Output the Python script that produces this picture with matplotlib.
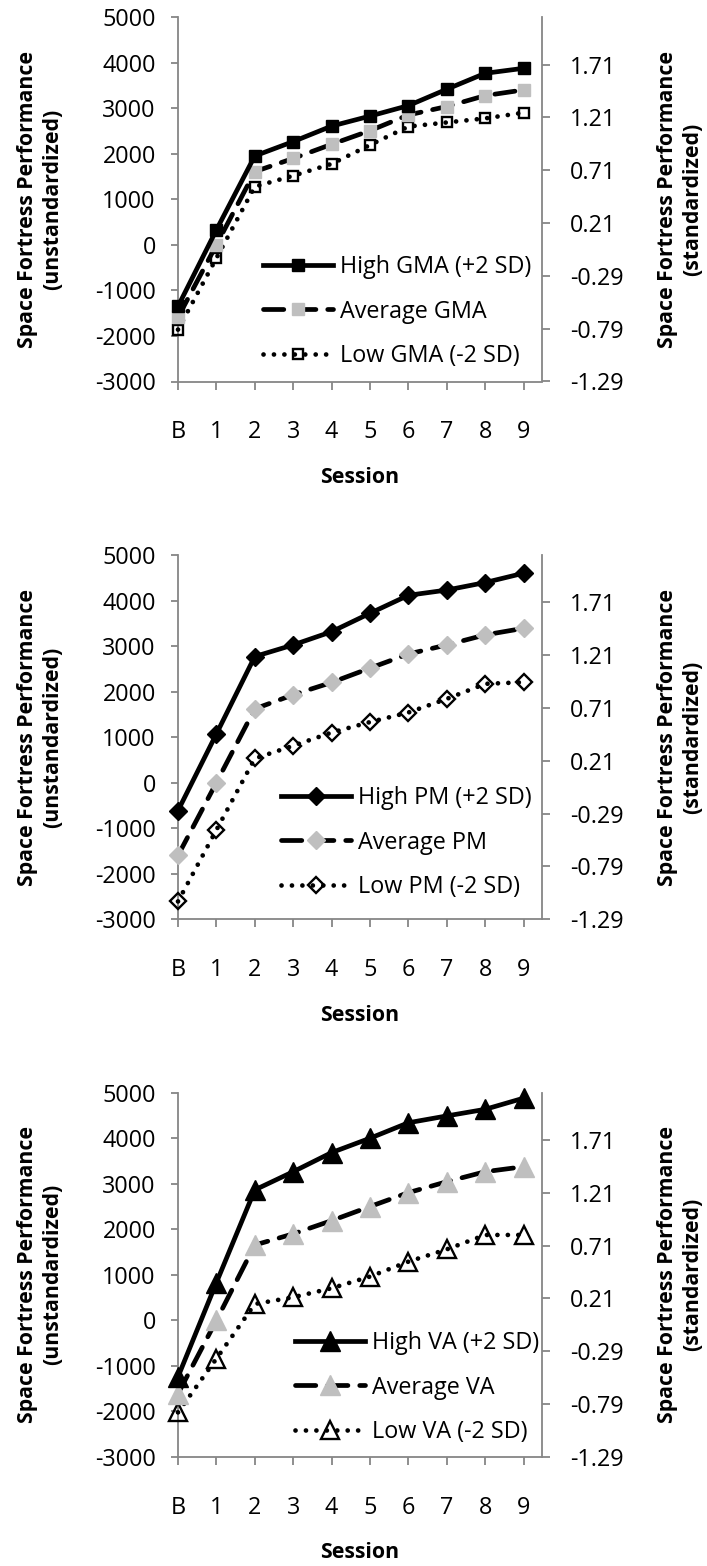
import matplotlib
matplotlib.use("Agg")
import matplotlib.pyplot as plt

sessions = ['B', '1', '2', '3', '4', '5', '6', '7', '8', '9']

gma_high = [-1350, 330, 1955, 2270, 2610, 2830, 3060, 3420, 3770, 3880]
gma_avg = [-1590, 0, 1610, 1900, 2210, 2510, 2855, 3040, 3280, 3405]
gma_low = [-1860, -290, 1280, 1520, 1780, 2195, 2600, 2690, 2780, 2905]

pm_high = [-615, 1070, 2770, 3025, 3315, 3720, 4115, 4230, 4395, 4600]
pm_avg = [-1600, 0, 1620, 1930, 2200, 2515, 2825, 3025, 3245, 3390]
pm_low = [-2610, -1040, 530, 810, 1100, 1330, 1540, 1840, 2170, 2205]

va_high = [-1240, 830, 2865, 3265, 3685, 4000, 4340, 4490, 4635, 4880]
va_avg = [-1610, 0, 1655, 1900, 2190, 2500, 2805, 3045, 3265, 3375]
va_low = [-2020, -840, 360, 508, 706, 962, 1290, 1560, 1876, 1876]

left_ticks = [-3000, -2000, -1000, 0, 1000, 2000, 3000, 4000, 5000]
right_ticks = [-1.29, -0.79, -0.29, 0.21, 0.71, 1.21, 1.71]

panels = [
    dict(high=gma_high, avg=gma_avg, low=gma_low, marker='s',
         names=['High GMA (+2 SD)', 'Average GMA', 'Low GMA (-2 SD)'],
         ms=(9.2, 8.8, 7.2)),
    dict(high=pm_high, avg=pm_avg, low=pm_low, marker='D',
         names=['High PM (+2 SD)', 'Average PM', 'Low PM (-2 SD)'],
         ms=(9.6, 9.6, 8.6)),
    dict(high=va_high, avg=va_avg, low=va_low, marker='^',
         names=['High VA (+2 SD)', 'Average VA', 'Low VA (-2 SD)'],
         ms=(14.0, 14.0, 13.5)),
]

W, H = 707, 1566
DPI = 100
fig = plt.figure(figsize=(W / DPI, H / DPI), dpi=DPI)

FONT = 'Open Sans'
TICK_FS = 16.8
LABEL_FS = 15.3
SPINE = '#868686'
GRAY = '#BFBFBF'
LW = 3.4

# plot area in pixels: (left, top, right, bottom)
areas = [(178, 17.3, 542, 381.5), (178, 555, 542, 919.2), (178, 1092.7, 542, 1457)]
legend_pos = [(263, 255), (281, 786), (295, 1331)]

x = list(range(len(sessions)))

for p, (l, t, r, b), (lx, ly) in zip(panels, areas, legend_pos):
    ax = fig.add_axes([l / W, 1 - b / H, (r - l) / W, (b - t) / H])
    ax.set_xlim(0, 9.48)
    ax.set_ylim(-3000, 5000)
    ax.set_yticks(left_ticks)
    ax.set_yticklabels([str(v) for v in left_ticks], fontfamily=FONT, fontsize=TICK_FS)
    ax.set_xticks(x)
    ax.set_xticklabels(sessions, fontfamily=FONT, fontsize=TICK_FS)
    ax.spines['top'].set_visible(False)
    ax.spines['right'].set_visible(False)
    for s in ['left', 'bottom']:
        ax.spines[s].set_color(SPINE)
        ax.spines[s].set_linewidth(1.3)
    ax.tick_params(axis='y', direction='out', length=5, width=1.3, color=SPINE, pad=11)
    ax.tick_params(axis='x', direction='out', length=6, width=1.3, color=SPINE, pad=22)

    m = p['marker']
    ms_h, ms_a, ms_l = p['ms']
    hl, = ax.plot(x, p['high'], color='black', lw=LW, marker=m, ms=ms_h,
                  mfc='black', mec='black', zorder=5, clip_on=False,
                  solid_joinstyle='round')
    al, = ax.plot(x, p['avg'], color='black', lw=LW, ls=(0, (4.3, 2.5)),
                  dash_capstyle='round', marker=m, ms=ms_a, mfc=GRAY, mec=GRAY,
                  zorder=4, clip_on=False)
    ll, = ax.plot(x, p['low'], color='black', lw=LW, ls=(0, (0.01, 2.2)),
                  dash_capstyle='round', marker=m, ms=ms_l, mfc='none', mec='black',
                  mew=1.7, zorder=3, clip_on=False)

    leg = ax.legend([hl, al, ll], p['names'], loc='upper left',
                    bbox_to_anchor=((lx - l) / (r - l), (b - ly) / (b - t)),
                    frameon=False, borderpad=0, borderaxespad=0,
                    handlelength=3.0, handletextpad=0.3, labelspacing=0.88,
                    numpoints=1, prop={'family': FONT, 'size': TICK_FS})
    leg.set_zorder(10)

    ax2 = ax.twinx()
    ax2.set_ylim(-1.29, 2.157)
    ax2.set_yticks(right_ticks)
    ax2.set_yticklabels(['%.2f' % v for v in right_ticks], fontfamily=FONT, fontsize=TICK_FS)
    for s in ['top', 'left', 'bottom']:
        ax2.spines[s].set_visible(False)
    ax2.spines['right'].set_color(SPINE)
    ax2.spines['right'].set_linewidth(1.3)
    ax2.tick_params(axis='y', direction='out', length=6, width=1.3, color=SPINE, pad=14)

    cy = 1 - (t + b) / 2 / H
    fig.text(40 / W, cy, 'Space Fortress Performance\n(unstandardized)',
             rotation=90, ha='center', va='center', multialignment='center',
             fontfamily=FONT, fontweight='bold', fontsize=LABEL_FS, linespacing=1.3)
    fig.text(680 / W, cy, 'Space Fortress Performance\n(standardized)',
             rotation=90, ha='center', va='center', multialignment='center',
             fontfamily=FONT, fontweight='bold', fontsize=LABEL_FS, linespacing=1.25)
    fig.text(360 / W, 1 - (b + 96) / H, 'Session', ha='center', va='center',
             fontfamily=FONT, fontweight='bold', fontsize=LABEL_FS)

fig.savefig('out.png', dpi=DPI)
